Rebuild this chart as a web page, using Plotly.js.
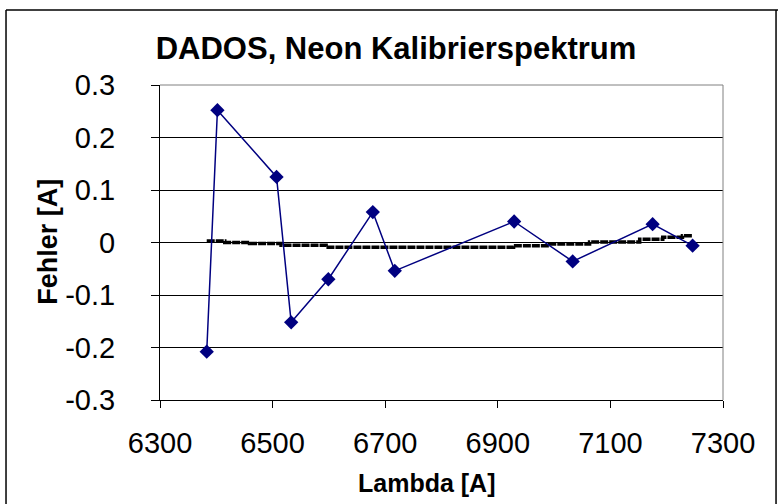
<!DOCTYPE html>
<html>
<head>
<meta charset="utf-8">
<script src="https://cdn.plot.ly/plotly-3.0.1.min.js"></script>
<style>html,body{margin:0;padding:0;background:#fff;}#chart{width:778px;height:504px;}</style>
</head>
<body>
<div id="chart"></div>
<script>
// Measured calibration errors (blue series)
const lambdaVals = [6383, 6402, 6507, 6533, 6599, 6678, 6717, 6929, 7033, 7175, 7246];
const errorVals  = [-0.208, 0.252, 0.125, -0.152, -0.070, 0.058, -0.054, 0.040, -0.036, 0.035, -0.006];

// Stepped reference curve (black dashed)
const fitLambda = [6383, 6415, 6459, 6515, 6595, 6928, 6992, 7063, 7152, 7193, 7228, 7246];
const fitError  = [0.003, 0.000, -0.002, -0.005, -0.009, -0.006, -0.003, 0.001, 0.006, 0.010, 0.013, 0.013];

// Tick labels
const xTickVals = [6300, 6500, 6700, 6900, 7100, 7300];
const xTickText = ["6300", "6500", "6700", "6900", "7100", "7300"];
const yTickVals = [0.3, 0.2, 0.1, 0, -0.1, -0.2, -0.3];
const yTickText = ["0.3", "0.2", "0.1", "0", "-0.1", "-0.2", "-0.3"];

const FONT = '"Liberation Sans", Arial, sans-serif';

const traces = [
  {
    x: fitLambda, y: fitError, type: 'scatter', mode: 'lines',
    line: {color: '#000000', width: 3.5, dash: '8px,1px', shape: 'hv'},
    hoverinfo: 'skip', showlegend: false
  },
  {
    x: lambdaVals, y: errorVals, type: 'scatter', mode: 'lines+markers',
    line: {color: '#000080', width: 1.5},
    marker: {symbol: 'diamond', size: 11, color: '#000080'},
    showlegend: false
  }
];

const layout = {
  width: 778, height: 504,
  margin: {l: 160, r: 55, t: 85, b: 104},
  paper_bgcolor: '#ffffff', plot_bgcolor: '#ffffff',
  font: {family: FONT, color: '#000000'},
  title: {
    text: '<b>DADOS, Neon Kalibrierspektrum</b>',
    font: {family: FONT, size: 31, color: '#000'},
    x: 0.509, xref: 'container', xanchor: 'center',
    y: 0.905, yref: 'container', yanchor: 'middle'
  },
  xaxis: {
    range: [6300, 7300], tickvals: xTickVals, ticktext: xTickText,
    showgrid: false, zeroline: false,
    showline: true, linecolor: '#000', linewidth: 1,
    ticks: 'outside', ticklen: 7, tickcolor: '#000', tickwidth: 1,
    tickfont: {family: FONT, size: 29, color: '#000'},
    ticklabelstandoff: 10
  },
  yaxis: {
    range: [-0.3, 0.3], tickvals: yTickVals, ticktext: yTickText,
    showgrid: true, gridcolor: '#000', gridwidth: 1, zeroline: false,
    showline: true, linecolor: '#000', linewidth: 1,
    ticks: 'outside', ticklen: 8, tickcolor: '#000', tickwidth: 1,
    tickfont: {family: FONT, size: 29, color: '#000'},
    ticklabelstandoff: 30
  },
  annotations: [
    {text: '<b>Lambda [A]</b>', xref: 'paper', yref: 'paper', x: 0.475, y: -0.263,
     xanchor: 'center', yanchor: 'middle', showarrow: false,
     font: {family: FONT, size: 25, color: '#000'}},
    {text: '<b>Fehler [A]</b>', xref: 'paper', yref: 'paper', x: -0.199, y: 0.502,
     xanchor: 'center', yanchor: 'middle', showarrow: false, textangle: -90,
     font: {family: FONT, size: 27, color: '#000'}}
  ],
  shapes: [
    {type: 'line', xref: 'paper', yref: 'paper', x0: 0, x1: 1, y0: 1, y1: 1, line: {color: '#808080', width: 1}},
    {type: 'line', xref: 'paper', yref: 'paper', x0: 1, x1: 1, y0: 0, y1: 1, line: {color: '#808080', width: 1}},
    {type: 'line', xref: 'paper', yref: 'paper', x0: -0.2735, x1: -0.2735, y0: 1.2381, y1: -0.35, line: {color: '#000', width: 1.5}},
    {type: 'line', xref: 'paper', yref: 'paper', x0: -0.2735, x1: 1.1, y0: 1.2381, y1: 1.2381, line: {color: '#000', width: 1.5}},
    {type: 'line', xref: 'paper', yref: 'paper', x0: 1.0942, x1: 1.0942, y0: 1.2381, y1: -0.35, line: {color: '#000', width: 1.5}}
  ]
};

Plotly.newPlot('chart', traces, layout, {staticPlot: true, displayModeBar: false});
</script>
</body>
</html>
